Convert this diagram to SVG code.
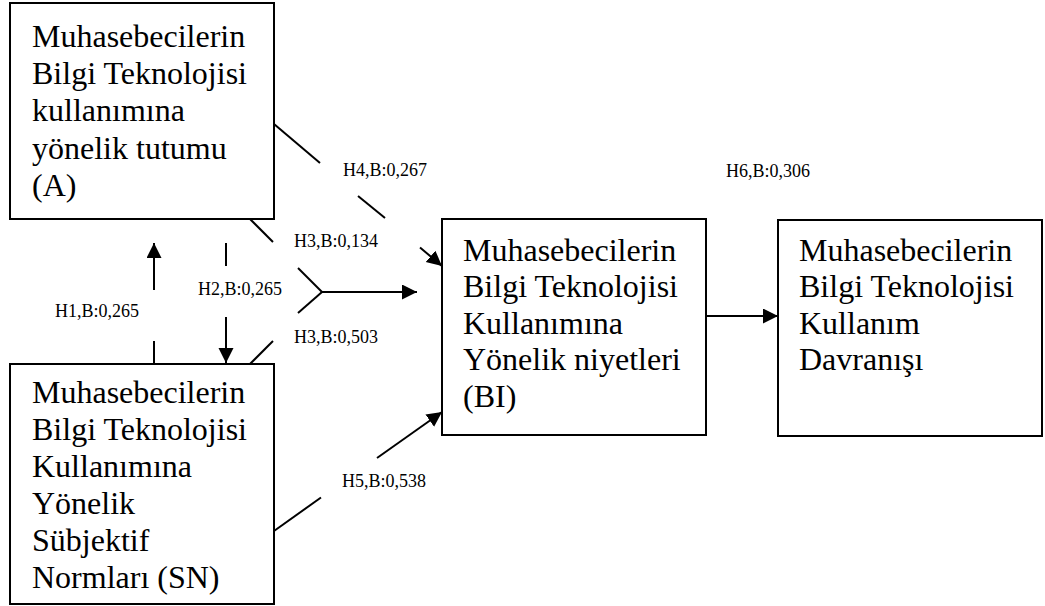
<svg xmlns="http://www.w3.org/2000/svg" width="1045" height="606" viewBox="0 0 1045 606">
<style>
.box{fill:#fff;stroke:#000;stroke-width:2}
.t{font-family:'Liberation Serif','Times New Roman','DejaVu Serif',serif;font-size:32px;fill:#000}
.lbl{font-family:'Liberation Serif','Times New Roman','DejaVu Serif',serif;font-size:18px;fill:#000}
.c{stroke:#000;stroke-width:2;fill:none}
.ca{stroke:#000;stroke-width:2;fill:none;marker-end:url(#ah)}
</style>
<defs>
<marker id="ah" markerUnits="userSpaceOnUse" markerWidth="16" markerHeight="16" refX="15" refY="7.5" orient="auto">
<path d="M0,0 L15,7.5 L0,15 z" fill="#000"/>
</marker>
</defs>
<rect width="1045" height="606" fill="#fff"/>
<g id="node-A">
<rect class="box" x="10" y="3" width="264" height="216"/>
<text class="t" x="32" y="46.7" font-family="Liberation Serif">Muhasebecilerin</text>
<text class="t" x="32" y="84" font-family="Liberation Serif">Bilgi Teknolojisi</text>
<text class="t" x="32" y="121" font-family="Liberation Serif">kullanımına</text>
<text class="t" x="32" y="158.5" font-family="Liberation Serif">yönelik tutumu</text>
<text class="t" x="32" y="195.5" font-family="Liberation Serif">(A)</text>
</g>
<g id="node-SN">
<rect class="box" x="10" y="364" width="264" height="240"/>
<text class="t" x="32" y="403">Muhasebecilerin</text>
<text class="t" x="32" y="440">Bilgi Teknolojisi</text>
<text class="t" x="32" y="477">Kullanımına</text>
<text class="t" x="32" y="514">Yönelik</text>
<text class="t" x="32" y="551">Sübjektif</text>
<text class="t" x="32" y="588">Normları (SN)</text>
</g>
<g id="node-BI">
<rect class="box" x="442" y="219" width="264" height="216"/>
<text class="t" x="463" y="260.5">Muhasebecilerin</text>
<text class="t" x="463" y="297">Bilgi Teknolojisi</text>
<text class="t" x="463" y="333.5">Kullanımına</text>
<text class="t" x="463" y="370">Yönelik niyetleri</text>
<text class="t" x="463" y="406.5">(BI)</text>
</g>
<g id="node-Behavior">
<rect class="box" x="778" y="220" width="264" height="216"/>
<text class="t" x="799" y="260.5">Muhasebecilerin</text>
<text class="t" x="799" y="297">Bilgi Teknolojisi</text>
<text class="t" x="799" y="333.5">Kullanım</text>
<text class="t" x="799" y="370">Davranışı</text>
</g>
<g id="connectors">
<line class="c" x1="274" y1="124" x2="320" y2="163"/>
<line class="c" x1="358" y1="196" x2="385" y2="218"/>
<line class="ca" x1="420" y1="247.5" x2="442" y2="266"/>
<line class="c" x1="250" y1="219" x2="273" y2="242"/>
<line class="c" x1="298" y1="268" x2="322" y2="292"/>
<line class="c" x1="250" y1="364" x2="273" y2="341"/>
<line class="c" x1="298" y1="313" x2="322" y2="292"/>
<line class="ca" x1="322" y1="292" x2="417" y2="292"/>
<line class="c" x1="154" y1="364" x2="154" y2="341"/>
<line class="ca" x1="154" y1="290" x2="154" y2="243"/>
<line class="c" x1="226" y1="243" x2="226" y2="266"/>
<line class="ca" x1="226" y1="317" x2="226" y2="363"/>
<line class="c" x1="274" y1="531" x2="321" y2="497.5"/>
<line class="ca" x1="377" y1="458" x2="442" y2="412"/>
<line class="ca" x1="706" y1="316" x2="778" y2="316"/>
</g>
<g id="labels">
<text class="lbl" x="343" y="176">H4,B:0,267</text>
<text class="lbl" x="294" y="247">H3,B:0,134</text>
<text class="lbl" x="198" y="295">H2,B:0,265</text>
<text class="lbl" x="55" y="317">H1,B:0,265</text>
<text class="lbl" x="294" y="343">H3,B:0,503</text>
<text class="lbl" x="342" y="487">H5,B:0,538</text>
<text class="lbl" x="726" y="177">H6,B:0,306</text>
</g>
</svg>
